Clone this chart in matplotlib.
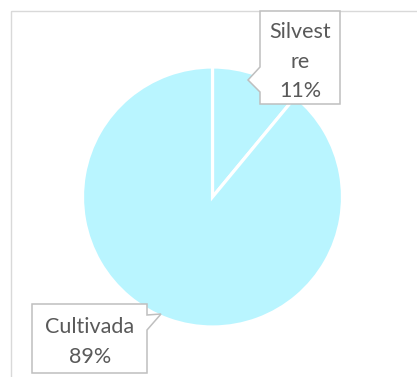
import textwrap
import matplotlib
matplotlib.use("Agg")
import matplotlib.pyplot as plt
from matplotlib.patches import Polygon, Rectangle

categories = ["Silvestre", "Cultivada"]
values = [11, 89]
slice_color = "#B9F5FF"
text_color = "#595959"
box_edge = "#BFBFBF"

W, H = 417, 377
fig = plt.figure(figsize=(W / 100, H / 100), dpi=100)
fig.patch.set_facecolor("white")

# Pie axes: centre (212, 197) px, radius 130 px
cx, cy, r = 212.5, 197, 130
ax = fig.add_axes([(cx - r) / W, (H - cy - r) / H, 2 * r / W, 2 * r / H])
ax.pie(values, startangle=90, counterclock=False,
       colors=[slice_color] * len(values),
       wedgeprops=dict(edgecolor="white", linewidth=2.3))
ax.set_xlim(-1, 1)
ax.set_ylim(-1, 1)
ax.set_aspect("equal")
ax.axis("off")

# Overlay in pixel coordinates for the frame and callouts
ov = fig.add_axes([0, 0, 1, 1], zorder=5)
ov.set_xlim(0, W)
ov.set_ylim(H, 0)
ov.axis("off")
ov.patch.set_alpha(0)

ov.add_patch(Rectangle((11, 11), 420, 380, fill=False, edgecolor="#D9D9D9",
                       linewidth=1.0, clip_on=False))

total = sum(values)
pct = [f"{round(v / total * 100)}%" for v in values]


def put_lines(x, baselines, lines):
    for yb, s in zip(baselines, lines):
        ov.text(x, yb, s, ha="center", va="baseline", fontsize=15.5,
                color=text_color, family="Lato")


# Callout for the first slice (pointer on the left edge)
sil = [(260, 11), (340, 11), (340, 104), (260, 104), (260, 92),
       (248, 80), (260, 67)]
ov.add_patch(Polygon(sil, closed=True, facecolor="white", edgecolor=box_edge,
                     linewidth=1.1, clip_on=False))
put_lines(300, [38, 68.5, 97],
          textwrap.wrap(categories[0], 7, break_long_words=True) + [pct[0]])

# Callout for the second slice (pointer at the upper-right corner)
cul = [(32, 304), (147, 304), (147, 315), (161, 314), (147, 330),
       (147, 373), (32, 373)]
ov.add_patch(Polygon(cul, closed=True, facecolor="white", edgecolor=box_edge,
                     linewidth=1.1, clip_on=False))
put_lines(90, [333, 363], [categories[1], pct[1]])

fig.savefig("out.png", dpi=100, facecolor="white")
